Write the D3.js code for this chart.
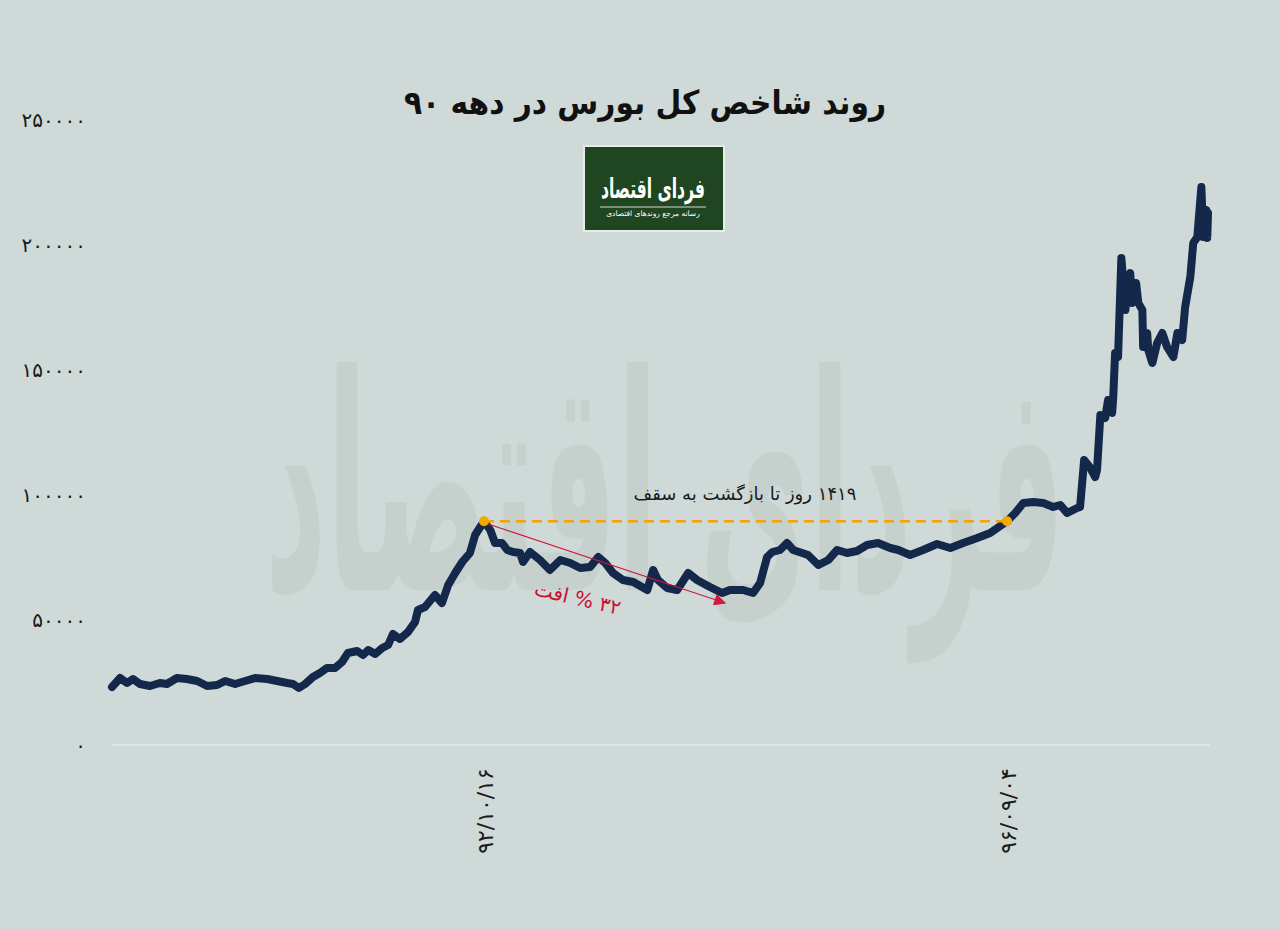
<!DOCTYPE html>
<html>
<head>
<meta charset="utf-8">
<script src="https://cdn.jsdelivr.net/npm/d3@7"></script>
<style>
  html, body { margin: 0; padding: 0; background: #cfd9d8; }
  svg { display: block; }
  text { font-family: "DejaVu Sans", sans-serif; }
</style>
</head>
<body>
<svg id="chart" width="1280" height="929"></svg>
<script>
// ---------------- DATA ----------------
const title = "روند شاخص کل بورس در دهه ۹۰";
const yTicks = [0, 50000, 100000, 150000, 200000, 250000];
const yTickLabels = ["۰", "۵۰۰۰۰", "۱۰۰۰۰۰", "۱۵۰۰۰۰", "۲۰۰۰۰۰", "۲۵۰۰۰۰"];
const xTickDays = [1009, 2428];
const xTickLabels = ["۹۲/۱۰/۱۶", "۹۶/۰۹/۰۴"];
const annotationText = "۱۴۱۹ روز تا بازگشت به سقف";
const dropText = "۳۲ % افت";
const dropArrowEnd = [1663, 56800];

// day offset since start of the decade and index value
const days = [0,22,41,57,76,103,130,149,176,203,231,258,285,307,334,361,388,421,448,475,
  491,507,524,545,564,583,605,624,640,665,681,695,714,733,749,762,781,803,822,830,
  849,876,895,912,931,950,971,985,1009,1026,1039,1058,1072,1088,1107,1115,1134,1161,1188,1216,
  1243,1270,1297,1319,1338,1359,1386,1414,1452,1468,1481,1506,1533,1563,1587,1622,1655,1676,1712,1739,
  1758,1777,1791,1812,1831,1848,1888,1916,1943,1967,1994,2021,2048,2078,2111,2133,2165,2200,2238,2274,
  2309,2347,2382,2428,2450,2472,2499,2526,2553,2572,2591,2618,2626,2637,2654,2667,2672,2681,2694,2702,
  2713,2716,2721,2729,2738,2749,2754,2762,2767,2778,2784,2795,2797,2808,2811,2822,2835,2849,2862,2879,
  2890,2903,2911,2925,2933,2944,2955,2960,2968,2971,2973];
const values = [23200,26800,24800,26400,24400,23600,24800,24400,26800,26400,25600,23600,24000,25600,24400,25600,26800,26400,25600,24800,
  24400,22800,24400,27200,28800,30800,30800,33200,36800,37600,36000,38000,36400,38800,40000,44400,42400,45200,49200,54000,
  55200,60000,56800,64000,68800,73200,76800,84000,89500,86000,80800,80800,78000,77200,76800,73200,77200,74000,70000,74000,
  72800,70800,71200,75200,72800,68800,66000,65200,62000,70000,66000,62800,62000,68800,66000,63200,60800,62000,62000,60800,
  64800,75200,77200,78000,80800,78000,76000,72000,74000,78000,76800,77600,80000,80800,78800,78000,76000,78000,80400,78800,
  80800,82800,84800,89500,92800,96800,97200,96800,95200,96000,92800,94800,95200,114000,110800,107200,110000,132000,130800,138000,
  132800,139200,156800,155200,194800,174000,184800,188800,176800,184800,176800,174000,159200,164800,158000,152800,160800,164800,159200,155200,
  164800,162000,175200,187200,200800,203200,223200,203200,214000,202800,212800];
const peakIndex = 48;
const recoverIndex = 103;

// ---------------- CHART ----------------
const svg = d3.select("#chart");
const W = 1280, H = 929;

svg.append("rect").attr("width", W).attr("height", H).attr("fill", "#cfd9d8");

const x = d3.scaleLinear().domain([0, 2973]).range([112, 1208]);
const y = d3.scaleLinear().domain([0, 250000]).range([745, 120]);

// watermark (scaled to fit)
const wm = svg.append("g");
const wmText = wm.append("text")
  .attr("x", 0).attr("y", 0)
  .attr("text-anchor", "middle")
  .attr("direction", "rtl")
  .attr("font-size", 300)
  .attr("font-weight", "bold")
  .attr("fill", "#c6d1ce")
  .text("فردای اقتصاد");
const wmLen = wmText.node().getComputedTextLength() || 1600;
wm.attr("transform", `translate(665,590) scale(${800 / wmLen},1)`);

// title
svg.append("text")
  .attr("x", 645).attr("y", 114)
  .attr("text-anchor", "middle")
  .attr("direction", "rtl")
  .attr("font-size", 33)
  .attr("font-weight", "bold")
  .attr("fill", "#111")
  .attr("textLength", 482)
  .attr("lengthAdjust", "spacingAndGlyphs")
  .text(title);

// logo
const logo = svg.append("g");
logo.append("rect").attr("x", 583).attr("y", 145).attr("width", 142).attr("height", 87)
  .attr("fill", "#e6ecea");
logo.append("rect").attr("x", 585).attr("y", 147).attr("width", 138).attr("height", 83)
  .attr("fill", "#1f4620");
logo.append("text").attr("x", 653).attr("y", 198)
  .attr("text-anchor", "middle").attr("direction", "rtl")
  .attr("font-size", 27).attr("font-weight", "bold").attr("fill", "#fff")
  .attr("textLength", 104).attr("lengthAdjust", "spacingAndGlyphs")
  .text("فردای اقتصاد");
logo.append("line").attr("x1", 600).attr("x2", 706).attr("y1", 207).attr("y2", 207)
  .attr("stroke", "#fff").attr("stroke-width", 0.8);
logo.append("text").attr("x", 653).attr("y", 216)
  .attr("text-anchor", "middle").attr("direction", "rtl")
  .attr("font-size", 7.5).attr("fill", "#fff")
  .text("رسانه مرجع روندهای اقتصادی");

// baseline grid
svg.append("line")
  .attr("x1", x(0)).attr("x2", 1210)
  .attr("y1", y(0)).attr("y2", y(0))
  .attr("stroke", "#dde2e2").attr("stroke-width", 2);

// y axis
const yAxis = d3.axisLeft(y).tickValues(yTicks)
  .tickFormat((d, i) => yTickLabels[i]).tickSize(0).tickPadding(0);
const gy = svg.append("g").attr("transform", "translate(86,0)").call(yAxis);
gy.select(".domain").remove();
gy.selectAll("text").attr("font-size", 20).attr("fill", "#1a1a1a")
  .attr("font-family", "DejaVu Sans, sans-serif");

// x axis labels (rotated)
const xAxis = d3.axisBottom(x).tickValues(xTickDays)
  .tickFormat((d, i) => xTickLabels[i]).tickSize(0);
const gx = svg.append("g").call(xAxis);
gx.select(".domain").remove();
gx.selectAll(".tick").each(function(d) {
  d3.select(this).attr("transform", `translate(${x(d) + 1},811)`);
});
gx.selectAll("text")
  .attr("transform", "rotate(-90)")
  .attr("x", 0).attr("y", 0).attr("dy", "0.35em")
  .attr("text-anchor", "middle")
  .attr("font-size", 22).attr("fill", "#1a1a1a")
  .attr("font-family", "DejaVu Sans, sans-serif");

// line
const line = d3.line().x((d, i) => x(days[i])).y(d => y(d)).curve(d3.curveLinear);
svg.append("path")
  .datum(values)
  .attr("d", line)
  .attr("fill", "none")
  .attr("stroke", "#13284a")
  .attr("stroke-width", 8)
  .attr("stroke-linejoin", "round")
  .attr("stroke-linecap", "round");

// dashed horizontal reference
svg.append("line")
  .attr("x1", x(days[peakIndex])).attr("x2", x(days[recoverIndex]))
  .attr("y1", y(values[peakIndex])).attr("y2", y(values[recoverIndex]))
  .attr("stroke", "#f0a500").attr("stroke-width", 2.5)
  .attr("stroke-dasharray", "10,6");

// arrow
const defs = svg.append("defs");
defs.append("marker").attr("id", "arrow")
  .attr("viewBox", "0 0 10 10").attr("refX", 9).attr("refY", 5)
  .attr("markerWidth", 18).attr("markerHeight", 12)
  .attr("markerUnits", "userSpaceOnUse")
  .attr("orient", "auto")
  .append("path").attr("d", "M0,0 L10,5 L0,10 Z").attr("fill", "#d3173d");
svg.append("line")
  .attr("x1", x(days[peakIndex]) + 2).attr("y1", y(values[peakIndex]) + 2)
  .attr("x2", x(dropArrowEnd[0])).attr("y2", y(dropArrowEnd[1]))
  .attr("stroke", "#d3173d").attr("stroke-width", 1.2)
  .attr("marker-end", "url(#arrow)");

// dots
svg.selectAll(".dot").data([peakIndex, recoverIndex]).enter().append("circle")
  .attr("cx", i => x(days[i])).attr("cy", i => y(values[i]))
  .attr("r", 5).attr("fill", "#f2a900");

// annotation
svg.append("text")
  .attr("x", 745).attr("y", 500)
  .attr("text-anchor", "middle").attr("direction", "rtl")
  .attr("font-size", 18).attr("fill", "#1a1a1a")
  .text(annotationText);

svg.append("text")
  .attr("transform", "translate(576,605) rotate(13)")
  .attr("text-anchor", "middle").attr("direction", "rtl")
  .attr("font-size", 20).attr("fill", "#c8102e")
  .text(dropText);
</script>
</body>
</html>
